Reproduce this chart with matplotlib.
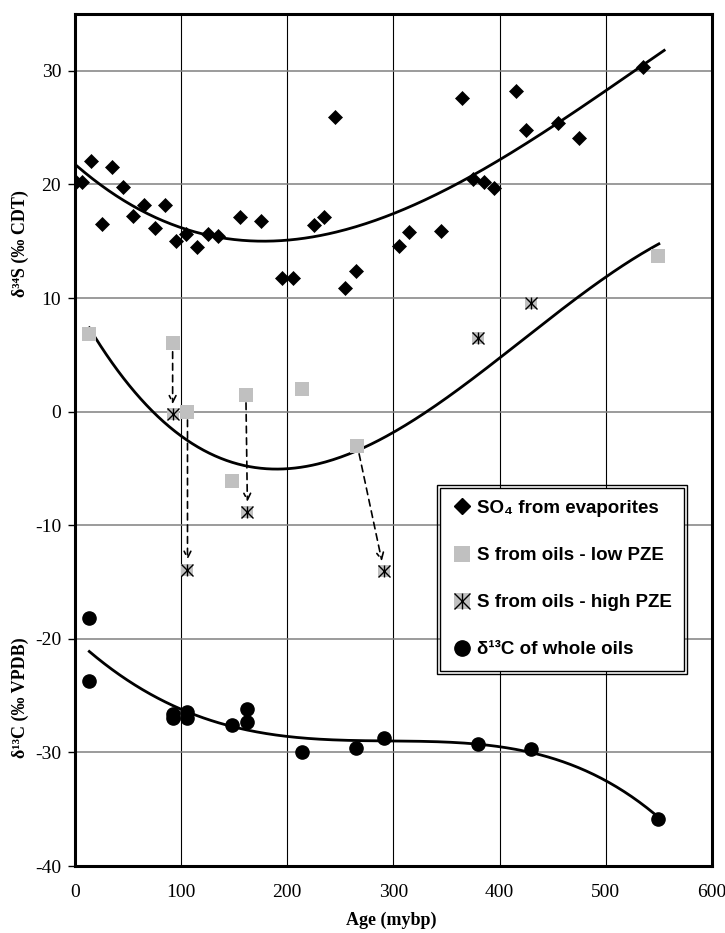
import numpy as np
import matplotlib.pyplot as plt
from matplotlib.lines import Line2D
from matplotlib.patches import Rectangle

plt.rcParams["axes.unicode_minus"] = False

# SO4 from evaporites (d34S)
so4_age = [1, 7, 15, 25, 35, 45, 55, 65, 75, 85, 95, 105, 115, 125, 135, 155, 175, 195,
           205, 225, 235, 245, 254, 265, 305, 315, 345, 365, 375, 385, 395, 415, 425, 455, 475, 535]
so4_d34s = [20.2, 20.2, 22.1, 16.5, 21.5, 19.8, 17.2, 18.2, 16.2, 18.2, 15.0, 15.6, 14.5, 15.6,
            15.5, 17.1, 16.8, 11.8, 11.8, 16.4, 17.1, 25.9, 10.9, 12.4, 14.6, 15.8, 15.9, 27.6,
            20.5, 20.2, 19.7, 28.2, 24.8, 25.4, 24.1, 30.3]

# S from oils - low PZE
low_age = [13.5, 92, 106, 148, 161, 213.5, 266, 549.5]
low_d34s = [6.8, 6.0, 0.0, -6.1, 1.5, 2.0, -3.0, 13.7]

# S from oils - high PZE
high_age = [92, 106, 162.5, 291, 380, 430]
high_d34s = [-0.2, -13.9, -8.8, -14.0, 6.5, 9.6]

# arrows: low PZE point index -> high PZE point index
arrow_from = [1, 2, 4, 6]
arrow_to = [0, 1, 2, 3]

# d13C of whole oils
c13_age = [13.5, 13.5, 92, 92, 106, 106, 148, 162, 162, 213.5, 265, 291, 380, 430, 549.5]
c13_val = [-18.2, -23.7, -26.6, -27.0, -26.4, -27.0, -27.6, -26.2, -27.3, -30.0, -29.6,
           -28.7, -29.3, -29.7, -35.9]

# trendlines
so4_curve_x = [2, 55, 100, 133, 180, 200, 267, 300, 363, 400, 500, 555]
so4_curve_y = [21.4, 18.5, 16.1, 15.4, 14.9, 15.0, 16.3, 17.5, 20.2, 22.2, 28.3, 31.75]
low_curve_x = [13.5, 70, 100, 162, 192, 221, 266, 300, 325, 400, 500, 550]
low_curve_y = [7.4, 0.3, -2.2, -4.75, -5.1, -4.8, -3.3, -1.9, -0.3, 4.6, 11.9, 14.75]
c13_curve_x = [13.5, 100, 148, 200, 268, 300, 400, 430, 500, 549.5]
c13_curve_y = [-21.1, -26.3, -27.6, -28.6, -29.0, -29.0, -29.5, -30.0, -32.5, -35.7]

serif = ["Liberation Serif", "DejaVu Serif"]
sans = ["Liberation Sans", "DejaVu Sans"]
grey = "#c0c0c0"

fig = plt.figure(figsize=(7.25, 9.33), dpi=100)
ax = fig.add_axes([0.1034, 0.0718, 0.8786, 0.9132])


def trend(xs, ys, deg):
    c = np.polyfit(xs, ys, deg)
    xx = np.linspace(min(xs), max(xs), 300)
    ax.plot(xx, np.polyval(c, xx), color="black", lw=2, zorder=3)


trend(so4_curve_x, so4_curve_y, 3)
trend(low_curve_x, low_curve_y, 3)
trend(c13_curve_x, c13_curve_y, 4)

ax.plot(so4_age, so4_d34s, "D", color="black", ms=7, mew=0.5, zorder=4)
ax.plot(low_age, low_d34s, "s", color=grey, ms=10, mew=0, zorder=4)
ax.plot(high_age, high_d34s, "s", color=grey, ms=9, mew=0, zorder=4)
ax.plot(high_age, high_d34s, "x", color="black", ms=9, mew=1, zorder=5)
ax.plot(high_age, high_d34s, "|", color="black", ms=9, mew=1, zorder=5)
ax.plot(c13_age, c13_val, "o", color="black", ms=9.5, zorder=4)

for i, j in zip(arrow_from, arrow_to):
    ax.annotate("", xy=(high_age[j], high_d34s[j]), xytext=(low_age[i], low_d34s[i]),
                arrowprops=dict(arrowstyle="->", linestyle=(0, (4, 3)), lw=1.2, color="black",
                                shrinkA=6, shrinkB=7, mutation_scale=12), zorder=4)

ax.set_xlim(0, 600)
ax.set_ylim(-40, 35)
ax.set_xticks(range(0, 601, 100))
ax.set_yticks(range(-40, 31, 10))
for x in range(100, 600, 100):
    ax.axvline(x, color="black", lw=0.8, zorder=1)
for y in range(-30, 31, 10):
    ax.axhline(y, color="#808080", lw=1.1, zorder=1)

for s in ax.spines.values():
    s.set_linewidth(2.2)
ax.tick_params(axis="x", length=0, pad=13)
ax.tick_params(axis="y", length=5, width=1, pad=5)
for lab in ax.get_xticklabels() + ax.get_yticklabels():
    lab.set_fontfamily(serif)
    lab.set_fontsize(14)

ax.set_xlabel("Age (mybp)", family=serif, fontsize=13, fontweight="bold")
ax.xaxis.set_label_coords(0.496, -0.054)
fig.text(0.028, 0.7385, "δ³⁴S (‰ CDT)", rotation=90, ha="center", va="center",
         family=serif, fontsize=13, fontweight="bold")
fig.text(0.028, 0.252, "δ¹³C (‰ VPDB)", rotation=90, ha="center", va="center",
         family=serif, fontsize=13, fontweight="bold")

handles = [
    Line2D([], [], ls="none", marker="D", color="black", ms=8),
    Line2D([], [], ls="none", marker="s", color=grey, ms=11, mew=0),
    (Line2D([], [], ls="none", marker="s", color=grey, ms=11, mew=0),
     Line2D([], [], ls="none", marker="x", color="black", ms=11, mew=1),
     Line2D([], [], ls="none", marker="|", color="black", ms=11, mew=1)),
    Line2D([], [], ls="none", marker="o", color="black", ms=11),
]
labels = ["SO₄ from evaporites", "S from oils - low PZE", "S from oils - high PZE",
          "δ¹³C of whole oils"]
leg = ax.legend(handles, labels, loc="upper left", bbox_to_anchor=(0.573, 0.444),
                borderaxespad=0, prop=dict(family=sans, weight="bold", size=13.5),
                handlelength=1.0, handletextpad=0.3, labelspacing=1.6, borderpad=0.65,
                fancybox=False, framealpha=1, edgecolor="black")
leg.get_frame().set_linewidth(1.0)
leg.set_zorder(6)

fig.canvas.draw()
bb = leg.get_frame().get_window_extent().transformed(fig.transFigure.inverted())
dx, dy = 3 / 725, 3 / 933
fig.add_artist(Rectangle((bb.x0 - dx, bb.y0 - dy), bb.width + 2 * dx, bb.height + 2 * dy,
                         transform=fig.transFigure, fill=False, lw=1.0, ec="black", zorder=7))

fig.savefig("out.png", dpi=100)
